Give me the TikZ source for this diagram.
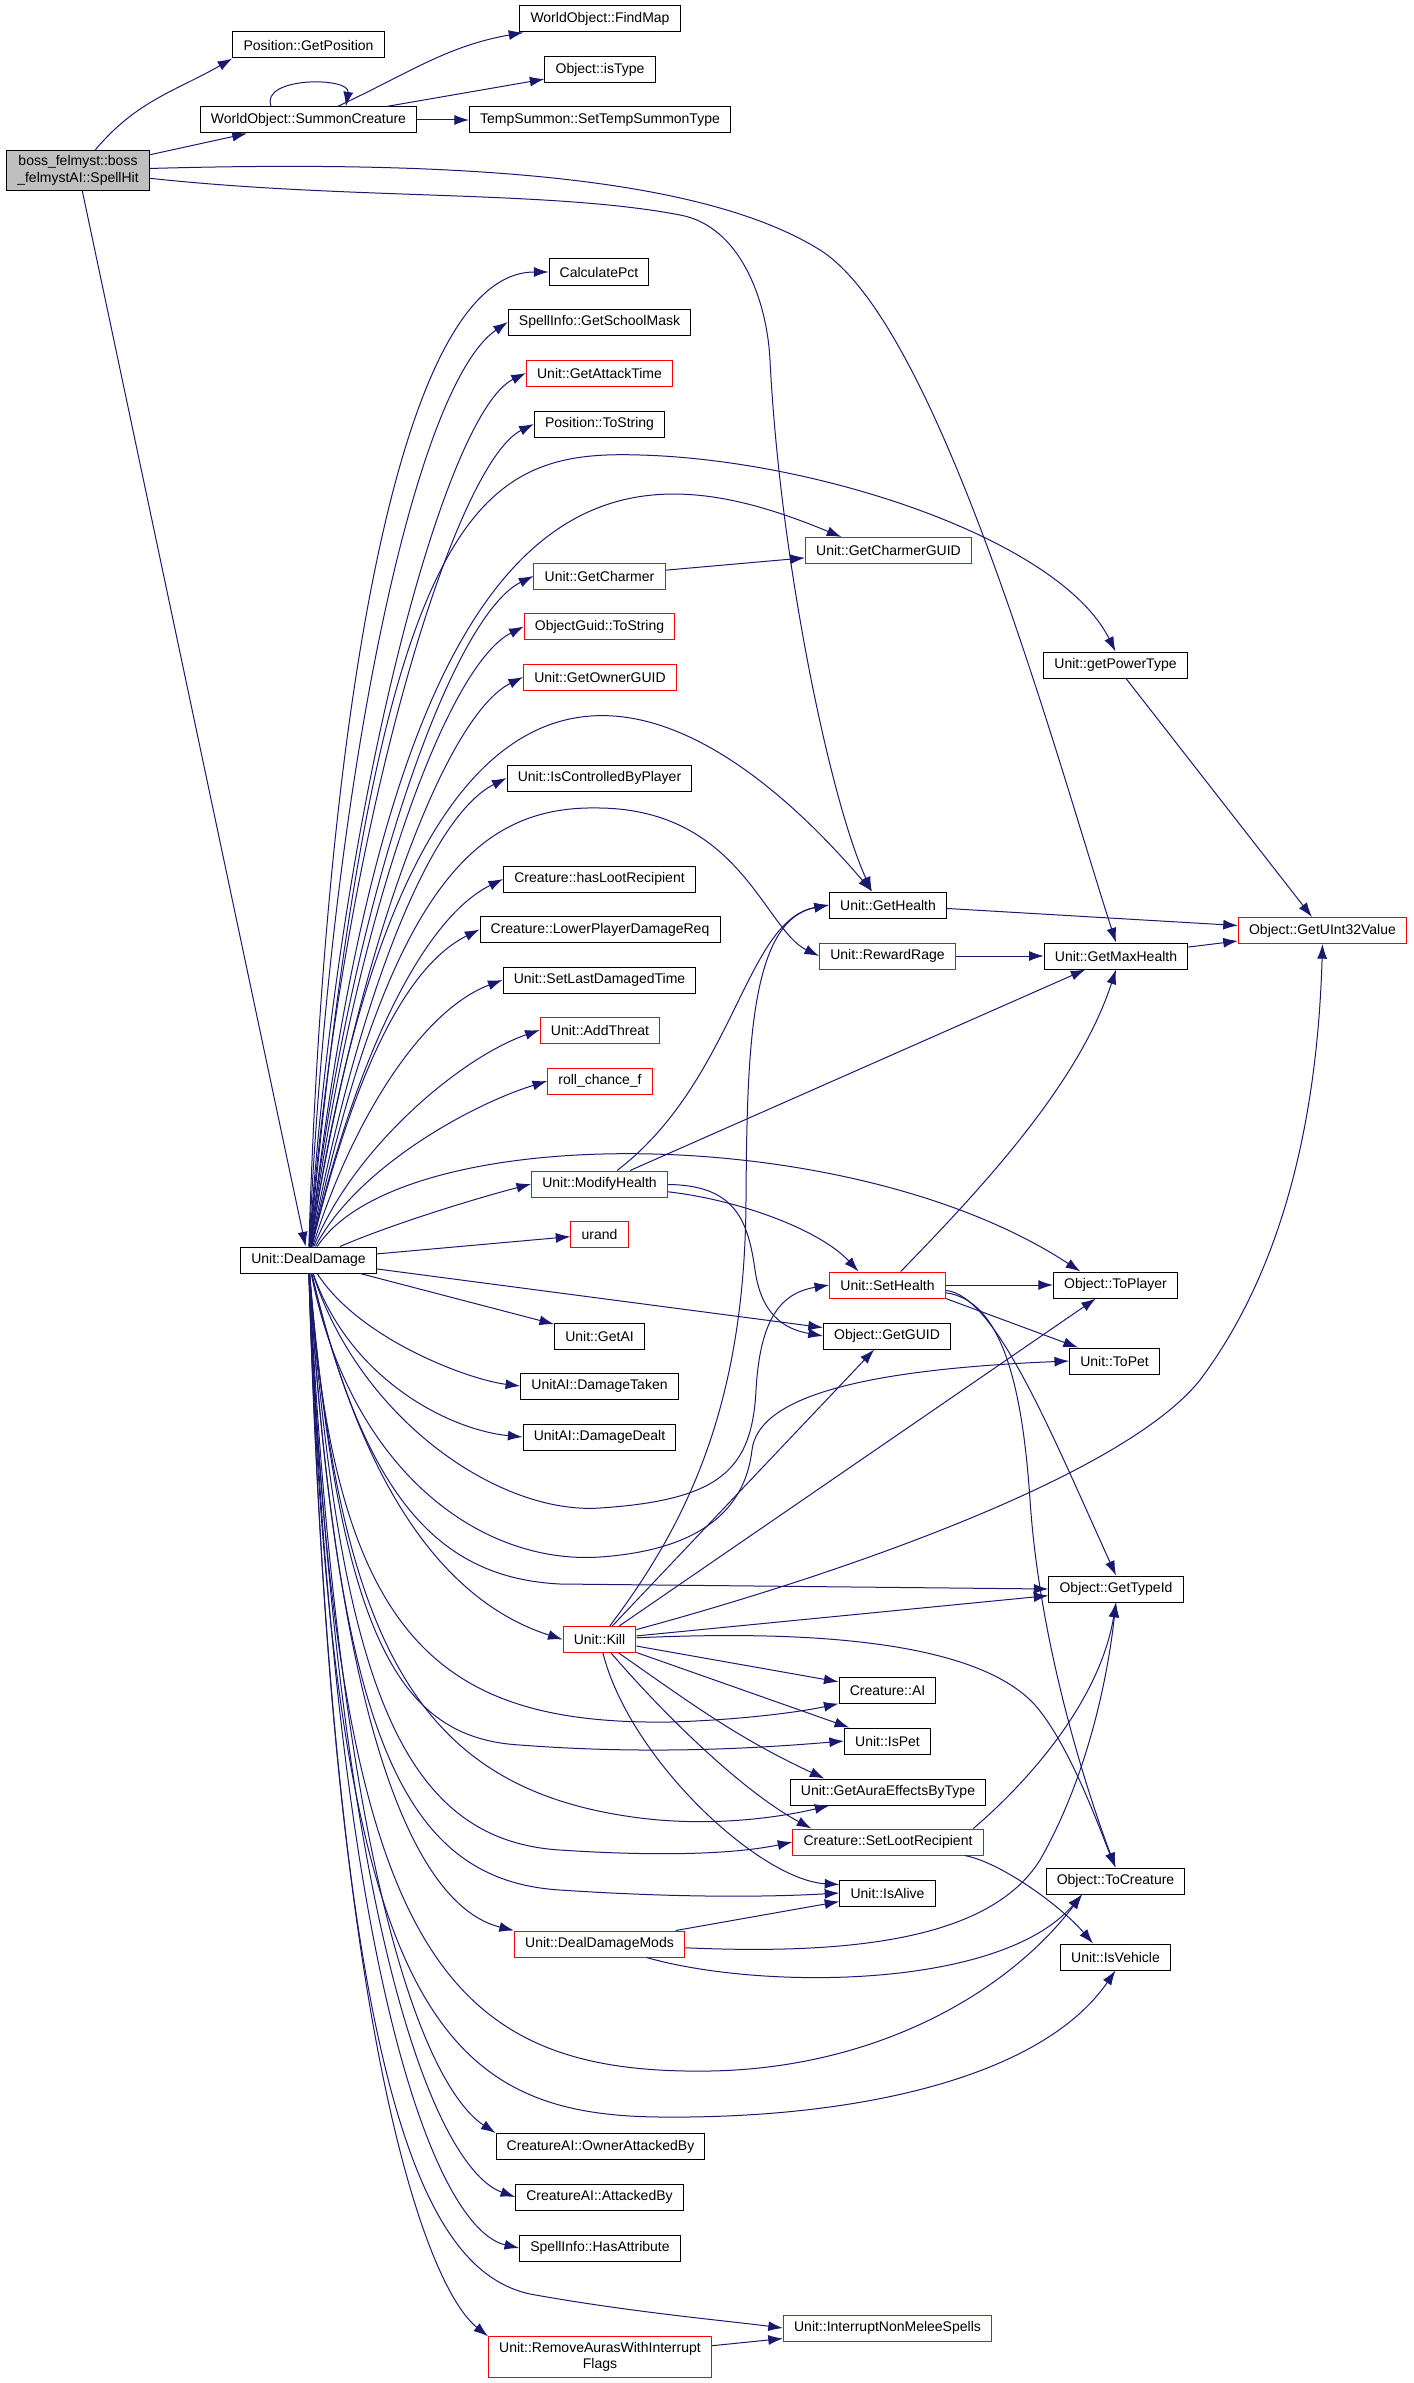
\documentclass[tikz,border=0pt]{standalone}
\usepackage{fontspec}
\setmainfont{Liberation Sans}
\usetikzlibrary{arrows.meta}

\definecolor{edgeblue}{HTML}{191970}
\definecolor{callred}{HTML}{FF0000}
\definecolor{rootgray}{HTML}{BFBFBF}

\tikzset{
	fn/.style={draw=black, rectangle, fill=white, line width=0.75pt,
		minimum height=19.5pt, inner xsep=8pt, inner ysep=2pt,
		font=\fontsize{10.5}{12.5}\selectfont},
	fnred/.style={fn, draw=callred},
	fnroot/.style={fn, fill=rootgray, align=center, inner ysep=4pt},
	call/.style={-{Latex[length=11pt,width=7.5pt]}, draw=edgeblue, line width=0.75pt}
}

\begin{document}
\begin{tikzpicture}[x=0.75pt, y=0.75pt]
	\useasboundingbox (0,0) rectangle (1413,-2383);

	\node[fnroot] (spellhit) at (78,-170.5)
		{boss\_felmyst::boss\\\_felmystAI::SpellHit};
	\node[fn] (getposition) at (308.5,-45) {Position::GetPosition};
	\node[fn] (summon) at (308.5,-120) {WorldObject::SummonCreature};
	\node[fn] (findmap) at (600,-19) {WorldObject::FindMap};
	\node[fn] (istype) at (600,-69.5) {Object::isType};
	\node[fn] (tempsummon) at (600,-120) {TempSummon::SetTempSummonType};
	\node[fn] (dealdamage) at (308.5,-1260) {Unit::DealDamage};

	\node[fn] (calcpct) at (599,-272) {CalculatePct};
	\node[fn] (schoolmask) at (599.5,-322) {SpellInfo::GetSchoolMask};
	\node[fnred] (attacktime) at (599.5,-373) {Unit::GetAttackTime};
	\node[fn] (posstring) at (599.5,-424) {Position::ToString};
	\node[fnred] (charmerguid) at (888.5,-550.5) {Unit::GetCharmerGUID};
	\node[fnred] (charmer) at (599.5,-576) {Unit::GetCharmer};
	\node[fnred] (guidstring) at (599.5,-626.5) {ObjectGuid::ToString};
	\node[fnred] (ownerguid) at (600,-677) {Unit::GetOwnerGUID};
	\node[fn] (powertype) at (1115.5,-665) {Unit::getPowerType};
	\node[fn] (controlled) at (599.5,-778) {Unit::IsControlledByPlayer};
	\node[fn] (haslootrecipient) at (599.5,-879) {Creature::hasLootRecipient};
	\node[fn] (gethealth) at (888,-905) {Unit::GetHealth};
	\node[fnred] (uint32) at (1322.5,-930.5) {Object::GetUInt32Value};
	\node[fn] (lowerdamage) at (600,-929.5) {Creature::LowerPlayerDamageReq};
	\node[fnred] (rewardrage) at (887.5,-956) {Unit::RewardRage};
	\node[fn] (maxhealth) at (1116,-956) {Unit::GetMaxHealth};
	\node[fn] (lastdamaged) at (599.5,-980) {Unit::SetLastDamagedTime};
	\node[fnred] (addthreat) at (600,-1030) {Unit::AddThreat};
	\node[fnred] (rollchance) at (600,-1081) {roll\_chance\_f};
	\node[fnred] (modifyhealth) at (599.5,-1184) {Unit::ModifyHealth};
	\node[fnred] (urand) at (599.5,-1234) {urand};
	\node[fnred] (sethealth) at (887.5,-1285) {Unit::SetHealth};
	\node[fn] (toplayer) at (1115.5,-1285) {Object::ToPlayer};
	\node[fn] (getai) at (599.5,-1336) {Unit::GetAI};
	\node[fn] (getguid) at (887,-1336) {Object::GetGUID};
	\node[fn] (topet) at (1114.5,-1361) {Unit::ToPet};
	\node[fn] (damagetaken) at (599.5,-1386) {UnitAI::DamageTaken};
	\node[fn] (damagedealt) at (599.5,-1437) {UnitAI::DamageDealt};
	\node[fn] (gettypeid) at (1116,-1589) {Object::GetTypeId};
	\node[fnred] (kill) at (599.5,-1639.5) {Unit::Kill};
	\node[fn] (creatureai) at (887.5,-1690.5) {Creature::AI};
	\node[fn] (ispet) at (887.5,-1741) {Unit::IsPet};
	\node[fn] (auraeffects) at (888,-1792) {Unit::GetAuraEffectsByType};
	\node[fnred] (setloot) at (888,-1842) {Creature::SetLootRecipient};
	\node[fn] (tocreature) at (1115.5,-1881) {Object::ToCreature};
	\node[fn] (isalive) at (887.5,-1893) {Unit::IsAlive};
	\node[fnred] (dealdamagemods) at (599.5,-1944) {Unit::DealDamageMods};
	\node[fn] (isvehicle) at (1115.5,-1957) {Unit::IsVehicle};
	\node[fn] (ownerattacked) at (600.5,-2146.5) {CreatureAI::OwnerAttackedBy};
	\node[fn] (attackedby) at (599.5,-2197) {CreatureAI::AttackedBy};
	\node[fn] (hasattribute) at (600,-2248) {SpellInfo::HasAttribute};
	\node[fnred] (interrupt) at (887.5,-2328) {Unit::InterruptNonMeleeSpells};
	\node[fnred, align=center, inner ysep=4pt] (removeauras) at (600,-2357)
		{Unit::RemoveAurasWithInterrupt\\Flags};

	% root
	\draw[call] (spellhit) to[out=50,in=210] (getposition.south west);
	\draw[call] (spellhit) -- (summon);
	\draw[call] (spellhit) .. controls (350,-200) and (550,-190) .. (680,-215)
		.. controls (740,-226) and (767,-300) .. (770,-360)
		.. controls (780,-560) and (830,-800) .. (gethealth.140);
	\draw[call] (spellhit) .. controls (450,-160) and (700,-175) .. (820,-250)
		.. controls (940,-325) and (1060,-770) .. (maxhealth.north);
	\draw[call] (spellhit) -- (dealdamage);

	% summon
	\draw[call] ([xshift=-28pt]summon.north) .. controls +(-12,30) and +(5,30)
		.. ([xshift=28pt]summon.north);
	\draw[call] (summon) to[out=25,in=190] (findmap.190);
	\draw[call] (summon) -- (istype);
	\draw[call] (summon) -- (tempsummon);

	% deal damage, upwards
	\draw[call] (dealdamage) .. controls (322,-800) and (385,-272) .. (calcpct.west);
	\draw[call] (dealdamage) .. controls (330,-790) and (413,-387) .. (schoolmask.west);
	\draw[call] (dealdamage) .. controls (338,-810) and (444,-413) .. (attacktime.west);
	\draw[call] (dealdamage) .. controls (342,-830) and (454,-464) .. (posstring.west);
	\draw[call] (dealdamage) .. controls (380,-500) and (480,-450) .. (640,-455)
		.. controls (820,-460) and (1060,-540) .. (powertype.north);
	\draw[call] (dealdamage) .. controls (400,-445) and (620,-445) .. (charmerguid.164);
	\draw[call] (dealdamage) .. controls (350,-900) and (452,-616) .. (charmer.west);
	\draw[call] (dealdamage) .. controls (352,-930) and (444,-667) .. (guidstring.west);
	\draw[call] (dealdamage) .. controls (355,-960) and (443,-717) .. (ownerguid.west);
	\draw[call] (dealdamage) .. controls (420,-520) and (700,-690) .. (gethealth.140);
	\draw[call] (dealdamage) .. controls (355,-1010) and (427,-818) .. (controlled.west);
	\draw[call] (dealdamage) .. controls (390,-880) and (480,-805) .. (600,-808)
		.. controls (740,-810) and (765,-930) .. (rewardrage.west);
	\draw[call] (dealdamage) .. controls (355,-1060) and (422,-919) .. (haslootrecipient.west);
	\draw[call] (dealdamage) .. controls (350,-1090) and (400,-969) .. (lowerdamage.west);
	\draw[call] (dealdamage) .. controls (352,-1120) and (422,-1010) .. (lastdamaged.west);
	\draw[call] (dealdamage) .. controls (352,-1150) and (459,-1058) .. (addthreat.west);
	\draw[call] (dealdamage) .. controls (355,-1170) and (467,-1106) .. (rollchance.west);
	\draw[call] (dealdamage) .. controls (400,-1120) and (850,-1120) .. (toplayer.159);
	\draw[call] (dealdamage) .. controls (390,-1225) and (470,-1200) .. (modifyhealth.west);
	\draw[call] (dealdamage) -- (urand);
	\draw[call] (dealdamage) -- (getguid);

	% deal damage, downwards
	\draw[call] (dealdamage) -- (getai);
	\draw[call] (dealdamage) .. controls (360,-1340) and (470,-1380) .. (damagetaken.west);
	\draw[call] (dealdamage) .. controls (350,-1380) and (450,-1430) .. (damagedealt.west);
	\draw[call] (dealdamage) .. controls (360,-1420) and (500,-1515) .. (600,-1508)
		.. controls (720,-1500) and (752,-1470) .. (756,-1390)
		.. controls (760,-1320) and (780,-1293) .. (sethealth.west);
	\draw[call] (dealdamage) .. controls (350,-1470) and (480,-1565) .. (600,-1557)
		.. controls (700,-1550) and (745,-1510) .. (752,-1450)
		.. controls (758,-1400) and (850,-1370) .. (topet.west);
	\draw[call] (dealdamage) .. controls (365,-1500) and (440,-1578) .. (560,-1584)
		-- (gettypeid.west);
	\draw[call] (dealdamage) .. controls (360,-1480) and (440,-1600) .. (kill.west);
	\draw[call] (dealdamage) .. controls (335,-1640) and (440,-1725) .. (670,-1722)
		.. controls (740,-1720) and (800,-1712) .. (creatureai.195);
	\draw[call] (dealdamage) .. controls (340,-1640) and (400,-1738) .. (520,-1745)
		.. controls (650,-1755) and (760,-1748) .. (ispet.west);
	\draw[call] (dealdamage) .. controls (340,-1650) and (420,-1790) .. (640,-1818)
		.. controls (720,-1828) and (790,-1815) .. (auraeffects.193);
	\draw[call] (dealdamage) .. controls (340,-1680) and (400,-1840) .. (560,-1850)
		.. controls (650,-1856) and (730,-1855) .. (setloot.west);
	\draw[call] (dealdamage) .. controls (338,-1730) and (400,-1880) .. (560,-1890)
		.. controls (680,-1898) and (770,-1897) .. (isalive.west);
	\draw[call] (dealdamage) .. controls (340,-1780) and (430,-1910) .. (dealdamagemods.north west);
	\draw[call] (dealdamage) .. controls (335,-1950) and (440,-2075) .. (710,-2071)
		.. controls (880,-2068) and (1010,-1990) .. (tocreature.202);
	\draw[call] (dealdamage) .. controls (332,-2010) and (440,-2115) .. (660,-2117)
		.. controls (850,-2119) and (1040,-2080) .. (isvehicle.south);
	\draw[call] (dealdamage) .. controls (340,-1900) and (430,-2090) .. (ownerattacked.north west);
	\draw[call] (dealdamage) .. controls (338,-1950) and (440,-2170) .. (attackedby.west);
	\draw[call] (dealdamage) .. controls (336,-2000) and (440,-2230) .. (hasattribute.west);
	\draw[call] (dealdamage) .. controls (334,-2080) and (420,-2270) .. (530,-2294)
		.. controls (630,-2312) and (720,-2320) .. (interrupt.west);
	\draw[call] (dealdamage) .. controls (332,-2060) and (430,-2290) .. (removeauras.north west);

	% second rank
	\draw[call] (charmer) -- (charmerguid);
	\draw[call] (powertype) -- (uint32);
	\draw[call] (gethealth) -- (uint32);
	\draw[call] (rewardrage) -- (maxhealth);
	\draw[call] (maxhealth) -- (uint32);
	\draw[call] (modifyhealth) .. controls (735,-1080) and (745,-920) .. (gethealth.west);
	\draw[call] (modifyhealth) -- (maxhealth);
	\draw[call] (modifyhealth) .. controls (740,-1200) and (820,-1230) .. (sethealth.155);
	\draw[call] (modifyhealth) .. controls (735,-1185) and (748,-1220) .. (755,-1270)
		.. controls (762,-1320) and (790,-1330) .. (getguid.west);

	\draw[call] (sethealth) -- (toplayer);
	\draw[call] (sethealth) .. controls (990,-1180) and (1080,-1080) .. (maxhealth.south);
	\draw[call] (sethealth.south east) -- (topet);
	\draw[call] (sethealth) .. controls (995,-1295) and (1050,-1430) .. (gettypeid.north);
	\draw[call] (sethealth) .. controls (1000,-1300) and (1022,-1380) .. (1030,-1500)
		.. controls (1040,-1650) and (1090,-1800) .. (tocreature.north);

	\draw[call] (kill) .. controls (690,-1520) and (745,-1400) .. (746,-1200)
		.. controls (747,-1050) and (750,-920) .. (gethealth.west);
	\draw[call] (kill) -- (getguid);
	\draw[call] (kill) -- (toplayer);
	\draw[call] (kill) .. controls (820,-1580) and (1120,-1480) .. (1200,-1380)
		.. controls (1290,-1260) and (1318,-1100) .. (uint32.south);
	\draw[call] (kill) -- (gettypeid);
	\draw[call] (kill) .. controls (850,-1628) and (985,-1650) .. (1035,-1705)
		.. controls (1070,-1745) and (1100,-1830) .. (tocreature.north);
	\draw[call] (kill) -- (creatureai);
	\draw[call] (kill) -- (ispet);
	\draw[call] (kill) to[out=-35,in=155] (auraeffects.168);
	\draw[call] (kill) .. controls (660,-1710) and (740,-1790) .. (setloot.170);
	\draw[call] (kill) .. controls (630,-1760) and (760,-1880) .. (isalive.170);

	\draw[call] (setloot.9) .. controls (1030,-1780) and (1100,-1700) .. (gettypeid.south);
	\draw[call] (setloot.-10) .. controls (1000,-1862) and (1060,-1905) .. (isvehicle.149);

	\draw[call] (dealdamagemods) -- (isalive);
	\draw[call] (dealdamagemods) .. controls (850,-1955) and (990,-1940) .. (1040,-1860)
		.. controls (1080,-1790) and (1105,-1700) .. (gettypeid.south);
	\draw[call] (dealdamagemods) .. controls (760,-1990) and (1000,-1990) .. (tocreature.202);

	\draw[call] (removeauras) -- (interrupt);
\end{tikzpicture}
\end{document}
